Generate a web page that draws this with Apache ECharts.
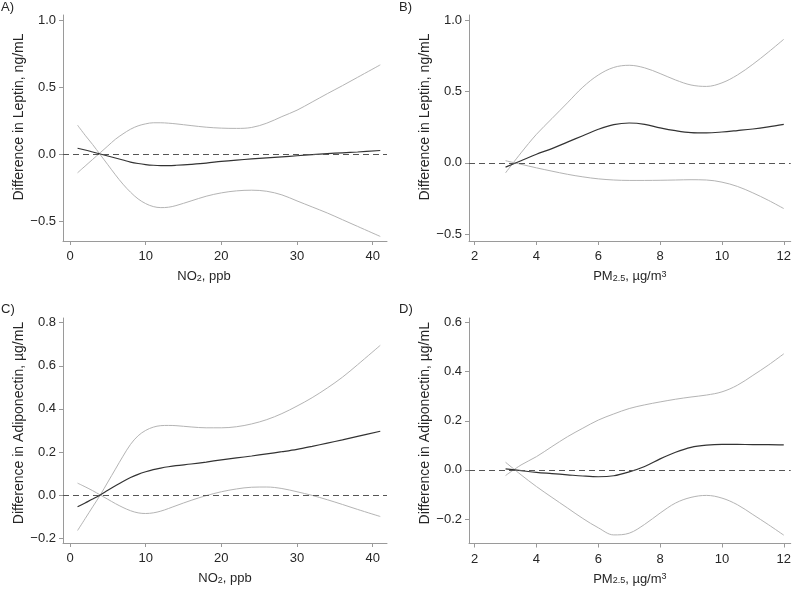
<!DOCTYPE html>
<html>
<head>
<meta charset="utf-8">
<script src="https://cdn.jsdelivr.net/npm/echarts@6/dist/echarts.min.js"></script>
<style>html,body{margin:0;padding:0;background:#fff}#c{width:794px;height:593px}</style>
</head>
<body>
<div id="c"></div>
<script>
// ---- Panel A: Leptin vs NO2 ----
const xA = [1,2,3,4,5,6,7,8,9,10,11,12,13,14,16,18,20,22,24,26,28,30,32,34,36,38,41];
const estA = [0.043,0.03,0.015,0.0,-0.015,-0.03,-0.045,-0.06,-0.071,-0.079,-0.084,-0.086,-0.086,-0.084,-0.077,-0.068,-0.055,-0.045,-0.037,-0.029,-0.021,-0.013,-0.005,0.003,0.009,0.015,0.026];
const upA = [-0.14,-0.09,-0.04,0.01,0.06,0.11,0.15,0.185,0.21,0.225,0.233,0.233,0.23,0.225,0.212,0.2,0.193,0.191,0.198,0.23,0.279,0.327,0.388,0.45,0.51,0.572,0.665];
const loA = [0.215,0.14,0.07,-0.005,-0.08,-0.155,-0.225,-0.285,-0.335,-0.37,-0.392,-0.4,-0.397,-0.385,-0.35,-0.315,-0.29,-0.275,-0.27,-0.278,-0.305,-0.35,-0.395,-0.44,-0.49,-0.54,-0.615];

// ---- Panel B: Leptin vs PM2.5 ----
const xB = [3,3.5,4,4.5,5,5.5,6,6.5,7,7.5,8,8.5,9,9.5,10,10.5,11,11.5,12];
const estB = [-0.03,0.015,0.06,0.1,0.145,0.19,0.235,0.268,0.279,0.27,0.245,0.225,0.212,0.21,0.216,0.226,0.237,0.252,0.27];
const upB = [-0.07,0.07,0.2,0.31,0.42,0.53,0.615,0.668,0.683,0.665,0.625,0.58,0.545,0.535,0.56,0.615,0.69,0.775,0.865];
const loB = [0.015,-0.01,-0.035,-0.058,-0.08,-0.098,-0.112,-0.12,-0.123,-0.123,-0.122,-0.12,-0.118,-0.12,-0.135,-0.165,-0.21,-0.262,-0.32];

// ---- Panel C: Adiponectin vs NO2 ----
const xC = [1,2,3,4,5,6,7,8,9,10,11,12,13,14,16,18,20,22,24,26,28,30,32,34,36,38,41];
const estC = [-0.055,-0.037,-0.019,0.0,0.022,0.043,0.063,0.081,0.096,0.108,0.118,0.125,0.131,0.136,0.144,0.153,0.163,0.172,0.181,0.191,0.201,0.212,0.226,0.241,0.256,0.272,0.296];
const upC = [-0.165,-0.11,-0.055,0.0,0.06,0.12,0.18,0.235,0.275,0.3,0.315,0.322,0.323,0.322,0.316,0.312,0.312,0.317,0.33,0.35,0.378,0.413,0.452,0.497,0.547,0.605,0.695];
const loC = [0.055,0.038,0.02,0.0,-0.02,-0.04,-0.058,-0.073,-0.083,-0.086,-0.083,-0.075,-0.063,-0.05,-0.025,-0.003,0.015,0.028,0.036,0.037,0.03,0.015,-0.002,-0.022,-0.044,-0.067,-0.1];

// ---- Panel D: Adiponectin vs PM2.5 ----
const xD = [3,3.5,4,4.5,5,5.5,6,6.5,7,7.5,8,8.5,9,9.5,10,10.5,11,11.5,12];
const estD = [0.004,-0.003,-0.01,-0.015,-0.02,-0.025,-0.028,-0.024,-0.008,0.014,0.045,0.072,0.092,0.101,0.104,0.104,0.103,0.103,0.102];
const upD = [-0.023,0.02,0.054,0.095,0.135,0.17,0.203,0.228,0.25,0.265,0.277,0.288,0.297,0.305,0.318,0.345,0.385,0.427,0.473];
const loD = [0.031,-0.02,-0.068,-0.112,-0.155,-0.198,-0.236,-0.265,-0.258,-0.222,-0.176,-0.135,-0.112,-0.104,-0.115,-0.142,-0.182,-0.223,-0.266];

// ---- tick labels ----
const ticksNO2 = [0,10,20,30,40];
const ticksPM = [2,4,6,8,10,12];
const ticksYA = [-0.5,0,0.5,1.0];
const ticksYB = [-0.5,0,0.5,1.0];
const ticksYC = [-0.2,0,0.2,0.4,0.6,0.8];
const ticksYD = [-0.2,0,0.2,0.4,0.6];

const panelLabels = ['A)','B)','C)','D)'];
const yTitles = ['Difference in Leptin, ng/mL','Difference in Leptin, ng/mL','Difference in Adiponectin, µg/mL','Difference in Adiponectin, µg/mL'];
const xTitleNO2A = '{n|NO}{s|2}{n|, ppb}{g| }';
const xTitleNO2 = '{n|NO}{s|2}{n|, ppb}';
const xTitlePM = '{n|PM}{s|2.5}{n|, µg/m}{p|3}';

const FONT = '"Liberation Sans", Arial, Helvetica, sans-serif';
const TXT = '#262626';
const AX = '#9a9a9a';

const panels = [
  {x:xA, est:estA, up:upA, lo:loA, xt:ticksNO2, yt:ticksYA, xmin:-0.925, xmax:41.89, ymin:-0.649, ymax:1.037,
   grid:{left:63, top:15, width:324, height:226}, xName:xTitleNO2A, yPad:[0,0,0,22]},
  {x:xB, est:estB, up:upB, lo:loB, xt:ticksPM, yt:ticksYB, xmin:1.817, xmax:12.225, ymin:-0.547, ymax:1.035,
   grid:{left:469, top:15, width:324, height:226}, xName:xTitlePM, yPad:[0,0,0,22]},
  {x:xC, est:estC, up:upC, lo:loC, xt:ticksNO2, yt:ticksYC, xmin:-0.925, xmax:41.89, ymin:-0.223, ymax:0.822,
   grid:{left:63, top:318, width:324, height:225}, xName:xTitleNO2, yPad:[0,0,0,15]},
  {x:xD, est:estD, up:upD, lo:loD, xt:ticksPM, yt:ticksYD, xmin:1.817, xmax:12.225, ymin:-0.30, ymax:0.619,
   grid:{left:469, top:318, width:324, height:225.5}, xName:xTitlePM, yPad:[0,0,0,15]}
];

const fmtY = v => (v < 0 ? '\u2212' : '') + Math.abs(v).toFixed(1);

const option = {
  animation: false,
  backgroundColor: '#fff',
  textStyle: {fontFamily: FONT},
  title: panelLabels.map((t, i) => ({
    text: t, left: i % 2 === 0 ? 1 : 399, top: i < 2 ? 1 : 303, padding: 0,
    textStyle: {fontSize: 13, fontWeight: 'normal', color: TXT, fontFamily: FONT}
  })),
  grid: panels.map(p => Object.assign({containLabel: false}, p.grid)),
  xAxis: panels.map((p, i) => ({
    gridIndex: i, type: 'value', min: p.xmin, max: p.xmax,
    splitLine: {show: false},
    axisLine: {show: true, onZero: false, lineStyle: {color: AX, width: 1}},
    axisTick: {show: true, customValues: p.xt, length: 4, lineStyle: {color: AX}},
    axisLabel: {customValues: p.xt, margin: 9, fontSize: 13, color: TXT, fontFamily: FONT},
    name: p.xName, nameLocation: 'middle', nameGap: 29,
    nameTextStyle: {
      color: TXT, fontFamily: FONT,
      rich: {
        n: {fontSize: 13, lineHeight: 13, verticalAlign: 'top', color: TXT, fontFamily: FONT},
        s: {fontSize: 9, lineHeight: 9, verticalAlign: 'bottom', padding: [6,0,0,0], color: TXT, fontFamily: FONT},
        p: {fontSize: 9, lineHeight: 9, verticalAlign: 'top', color: TXT, fontFamily: FONT},
        g: {fontSize: 13, lineHeight: 13, width: 42, verticalAlign: 'top'}
      }
    }
  })),
  yAxis: panels.map((p, i) => ({
    gridIndex: i, type: 'value', min: p.ymin, max: p.ymax,
    splitLine: {show: false},
    axisLine: {show: true, onZero: false, lineStyle: {color: AX, width: 1}},
    axisTick: {show: true, customValues: p.yt, length: 4, lineStyle: {color: AX}},
    axisLabel: {customValues: p.yt, margin: 7, fontSize: 13, color: TXT, fontFamily: FONT, formatter: fmtY},
    name: yTitles[i], nameLocation: 'middle', nameGap: 37,
    nameTextStyle: {fontSize: 14, color: TXT, fontFamily: FONT, padding: p.yPad}
  })),
  series: []
};

panels.forEach((p, i) => {
  const mk = arr => p.x.map((xv, k) => [xv, arr[k]]);
  option.series.push({
    type: 'line', xAxisIndex: i, yAxisIndex: i, data: mk(p.up), smooth: 0.35,
    showSymbol: false, lineStyle: {color: '#b4b4b4', width: 1}, z: 2,
    markLine: {silent: true, symbol: 'none', label: {show: false},
      lineStyle: {color: '#555', type: [6,4], width: 1}, data: [{yAxis: 0}]}
  });
  option.series.push({
    type: 'line', xAxisIndex: i, yAxisIndex: i, data: mk(p.lo), smooth: 0.35,
    showSymbol: false, lineStyle: {color: '#b4b4b4', width: 1}, z: 2
  });
  option.series.push({
    type: 'line', xAxisIndex: i, yAxisIndex: i, data: mk(p.est), smooth: 0.35,
    showSymbol: false, lineStyle: {color: '#333', width: 1.2}, z: 3
  });
});

const chart = echarts.init(document.getElementById('c'), null, {renderer: 'canvas'});
chart.setOption(option);
</script>
</body>
</html>
